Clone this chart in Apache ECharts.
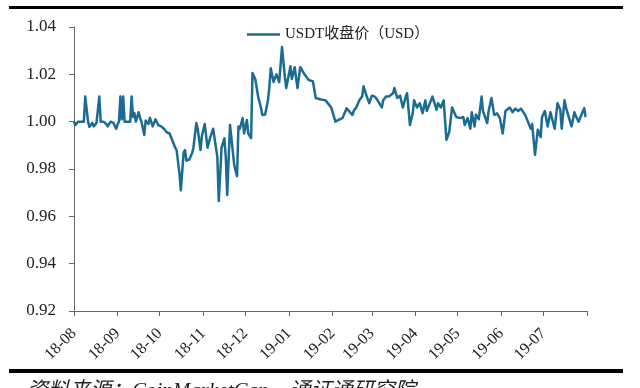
<!DOCTYPE html>
<html>
<head>
<meta charset="utf-8">
<script src="https://cdn.jsdelivr.net/npm/echarts@6/dist/echarts.min.js"></script>
<style>html,body{margin:0;padding:0;background:#fff;}#c{width:640px;height:388px;}</style>
</head>
<body>
<div id="c"></div>
<script>
var seriesName = 'USDT收盘价（USD）';
var dates = [
'2018-08-01','2018-08-02','2018-08-04','2018-08-08','2018-08-09','2018-08-11','2018-08-12','2018-08-14','2018-08-15','2018-08-17',
'2018-08-19','2018-08-20','2018-08-22','2018-08-24','2018-08-25','2018-08-27','2018-08-29','2018-08-31','2018-09-01','2018-09-02',
'2018-09-03','2018-09-04','2018-09-05','2018-09-06','2018-09-08','2018-09-10','2018-09-11','2018-09-12','2018-09-13','2018-09-14',
'2018-09-16','2018-09-17','2018-09-18','2018-09-20','2018-09-21','2018-09-23','2018-09-24','2018-09-26','2018-09-28','2018-09-30',
'2018-10-02','2018-10-04','2018-10-06','2018-10-08','2018-10-09','2018-10-12','2018-10-13','2018-10-15','2018-10-16','2018-10-18',
'2018-10-19','2018-10-20','2018-10-22','2018-10-24','2018-10-25','2018-10-27','2018-10-28','2018-10-30','2018-10-31','2018-11-02',
'2018-11-04','2018-11-06','2018-11-07','2018-11-08','2018-11-10','2018-11-11','2018-11-12','2018-11-14','2018-11-16','2018-11-17',
'2018-11-18','2018-11-20','2018-11-23','2018-11-25','2018-11-26','2018-11-27','2018-11-29','2018-11-30','2018-12-02','2018-12-03',
'2018-12-05','2018-12-06','2018-12-08','2018-12-10','2018-12-12','2018-12-13','2018-12-15','2018-12-17','2018-12-18','2018-12-19',
'2018-12-21','2018-12-23','2018-12-25','2018-12-27','2018-12-29','2018-12-30','2019-01-02','2019-01-03','2019-01-05','2019-01-07',
'2019-01-09','2019-01-12','2019-01-15','2019-01-18','2019-01-20','2019-01-23','2019-01-27','2019-01-31','2019-02-03','2019-02-05',
'2019-02-08','2019-02-11','2019-02-12','2019-02-15','2019-02-16','2019-02-18','2019-02-20','2019-02-22','2019-02-23','2019-02-25',
'2019-02-27','2019-03-01','2019-03-03','2019-03-05','2019-03-08','2019-03-09','2019-03-11','2019-03-13','2019-03-16','2019-03-17',
'2019-03-19','2019-03-21','2019-03-23','2019-03-25','2019-03-26','2019-03-28','2019-03-30','2019-03-31','2019-04-02','2019-04-04',
'2019-04-06','2019-04-08','2019-04-09','2019-04-12','2019-04-13','2019-04-16','2019-04-17','2019-04-19','2019-04-21','2019-04-23',
'2019-04-25','2019-04-27','2019-04-30','2019-05-03','2019-05-05','2019-05-06','2019-05-08','2019-05-10','2019-05-11','2019-05-13',
'2019-05-14','2019-05-16','2019-05-18','2019-05-19','2019-05-22','2019-05-23','2019-05-25','2019-05-27','2019-05-29','2019-05-31',
'2019-06-02','2019-06-04','2019-06-07','2019-06-09','2019-06-11','2019-06-13','2019-06-15','2019-06-18','2019-06-20','2019-06-22',
'2019-06-23','2019-06-25','2019-06-27','2019-06-29','2019-06-30','2019-07-02','2019-07-04','2019-07-06','2019-07-07','2019-07-09',
'2019-07-11','2019-07-13','2019-07-14','2019-07-16','2019-07-17','2019-07-19','2019-07-21','2019-07-23','2019-07-24','2019-07-26',
'2019-07-28','2019-07-30','2019-07-31'
];
var closePrice = [
1.000,0.9986,1.000,1.000,1.0106,1.000,0.9978,0.9995,0.998,0.9995,
1.0106,1.000,1.000,0.999,0.998,1.000,0.9995,0.997,0.9988,1.000,
1.0106,1.001,1.0106,1.000,1.000,1.000,1.0106,1.002,1.0036,1.000,
1.004,1.0016,1.000,0.9944,1.0005,0.999,1.0016,0.998,1.001,0.9985,
0.998,0.997,0.9955,0.995,0.9935,0.989,0.988,0.9783,0.971,0.987,
0.988,0.9835,0.984,0.9867,0.989,0.9994,0.997,0.988,0.994,0.999,
0.989,0.9935,0.993,0.997,0.989,0.985,0.9665,0.989,0.993,0.985,
0.969,0.9986,0.9817,0.977,0.998,0.997,1.0015,0.995,1.0007,0.995,
0.993,1.0206,1.0179,1.0106,1.006,1.0028,1.003,1.009,1.0146,1.0226,
1.0168,1.020,1.0167,1.0315,1.019,1.0142,1.0234,1.018,1.023,1.0142,
1.023,1.020,1.0176,1.017,1.010,1.0095,1.009,1.006,1.000,1.0007,
1.0015,1.0057,1.005,1.0028,1.0045,1.0062,1.009,1.0106,1.015,1.0112,
1.0078,1.011,1.0106,1.009,1.006,1.009,1.0106,1.0106,1.012,1.0142,
1.010,1.011,1.006,1.0105,1.012,0.9986,1.0036,1.009,1.006,1.0078,
1.0036,1.009,1.0045,1.009,1.0106,1.005,1.0078,1.006,1.009,0.9923,
0.9957,1.006,1.002,1.0015,1.002,0.9986,1.0015,0.997,1.004,0.998,
1.003,1.001,1.0106,1.0045,0.9994,1.0045,1.010,1.0028,1.0035,1.0015,
0.995,1.0045,1.006,1.004,1.0055,1.0045,1.0055,1.0028,1.000,0.997,
0.999,0.986,0.9966,0.9935,1.002,1.0045,0.998,1.004,1.0045,0.997,
1.0078,1.005,0.997,1.009,1.006,1.002,0.998,1.004,1.0025,1.000,
1.0028,1.0057,1.002
];
var yTicks = [0.92, 0.94, 0.96, 0.98, 1.00, 1.02, 1.04];
var axisStart = '2018-08-01';
var axisEnd = '2019-08-01';
var sourceText = '资料来源：CoinMarketCap，通证通研究院';

var pairs = dates.map(function (d, i) { return [d, closePrice[i]]; });
var serif = '"Liberation Serif","Times New Roman","Noto Sans CJK SC",serif';
var chart = echarts.init(document.getElementById('c'), null, {renderer: 'canvas'});
chart.setOption({
  backgroundColor: '#ffffff',
  animation: false,
  legend: {
    top: 22, left: 242,
    itemWidth: 33, itemHeight: 14, itemGap: 2,
    textStyle: {fontFamily: serif, fontSize: 15, color: '#222'},
    data: [{name: seriesName, icon: 'path://M0,6 L33,6 L33,8.5 L0,8.5 Z'}]
  },
  grid: {left: 74, right: 53, top: 27, bottom: 77},
  xAxis: {
    type: 'time',
    min: axisStart, max: axisEnd,
    splitNumber: 12,
    axisLine: {lineStyle: {color: '#666', width: 1}},
    axisTick: {show: true, length: 5, lineStyle: {color: '#666'}},
    splitLine: {show: false},
    axisLabel: {
      rotate: 45, fontFamily: serif, fontSize: 16, color: '#222', margin: 20,
      showMaxLabel: true,
      formatter: function (v) {
        var d = new Date(v);
        if (d.getTime() >= new Date(axisEnd).getTime() - 86400000) return '';
        var yy = String(d.getFullYear()).slice(2);
        var mm = ('0' + (d.getMonth() + 1)).slice(-2);
        return yy + '-' + mm;
      }
    }
  },
  yAxis: {
    type: 'value',
    min: yTicks[0], max: yTicks[yTicks.length - 1], interval: 0.02,
    axisLine: {show: true, lineStyle: {color: '#666', width: 1}},
    axisTick: {show: true, length: 5, lineStyle: {color: '#666'}},
    splitLine: {show: false},
    axisLabel: {
      fontFamily: serif, fontSize: 17, color: '#222', margin: 18,
      formatter: function (v) { return v.toFixed(2); }
    }
  },
  graphic: [
    {type: 'rect', shape: {x: 9, y: 6, width: 614, height: 3}, style: {fill: '#000'}},
    {type: 'rect', shape: {x: 9, y: 369, width: 614, height: 4}, style: {fill: '#000'}},
    {type: 'text', left: 27, top: 381, style: {text: sourceText, fontFamily: serif, fontStyle: 'italic', fontSize: 21, fill: '#222'}}
  ],
  series: [{
    name: seriesName,
    type: 'line',
    data: pairs,
    showSymbol: false,
    symbol: 'none',
    lineStyle: {color: '#1b6b93', width: 2.5, join: 'round'},
    itemStyle: {color: '#1b6b93'}
  }]
});
</script>
</body>
</html>
